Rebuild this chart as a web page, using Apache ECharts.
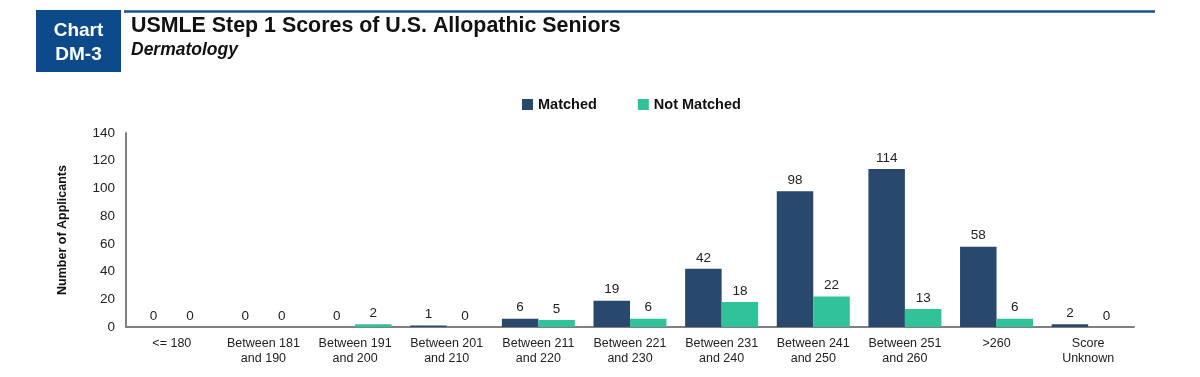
<!DOCTYPE html>
<html>
<head>
<meta charset="utf-8">
<script src="https://cdn.jsdelivr.net/npm/echarts@6/dist/echarts.min.js"></script>
<style>
  html, body { margin: 0; padding: 0; background: #fff; }
  #chart { width: 1200px; height: 377px; }
</style>
</head>
<body>
<div id="chart"></div>
<script>
const categories = ['<= 180', 'Between 181\nand 190', 'Between 191\nand 200', 'Between 201\nand 210',
  'Between 211\nand 220', 'Between 221\nand 230', 'Between 231\nand 240', 'Between 241\nand 250',
  'Between 251\nand 260', '>260', 'Score\nUnknown'];
const matched = [0, 0, 0, 1, 6, 19, 42, 98, 114, 58, 2];
const notMatched = [0, 0, 2, 0, 5, 6, 18, 22, 13, 6, 0];

const myChart = echarts.init(document.getElementById('chart'));

const barLabel = {
  show: true,
  position: 'top',
  distance: 4,
  color: '#222',
  fontFamily: 'Liberation Sans, Arial',
  fontSize: 13.5
};

const option = {
  animation: false,
  textStyle: { fontFamily: 'Liberation Sans, Arial' },
  title: {
    text: 'USMLE Step 1 Scores of U.S. Allopathic Seniors',
    subtext: 'Dermatology',
    left: 126,
    top: 11,
    itemGap: 4,
    textStyle: { fontSize: 21.4, fontWeight: 'bold', color: '#111', fontFamily: 'Liberation Sans, Arial' },
    subtextStyle: { fontSize: 17.5, fontWeight: 'bold', fontStyle: 'italic', color: '#111', fontFamily: 'Liberation Sans, Arial' }
  },
  graphic: [
    { type: 'rect', shape: { x: 36, y: 10, width: 85, height: 62 }, style: { fill: '#0d4a8a' } },
    { type: 'text', x: 78.5, y: 19, style: { text: 'Chart\nDM-3', fill: '#fff', fontSize: 19, fontWeight: 'bold',
        fontFamily: 'Liberation Sans, Arial', align: 'center', lineHeight: 24 } },
    { type: 'line', shape: { x1: 124, y1: 11.5, x2: 1155, y2: 11.5 }, style: { stroke: '#1a4f8f', lineWidth: 2.5 } }
  ],
  legend: {
    top: 92,
    left: 517,
    itemWidth: 11,
    itemHeight: 11,
    itemGap: 41,
    icon: 'rect',
    textStyle: { fontSize: 14.5, fontWeight: 'bold', color: '#111' },
    data: ['Matched', 'Not Matched']
  },
  grid: { left: 126, right: 66, top: 133, bottom: 50 },
  xAxis: {
    type: 'category',
    data: categories,
    axisLine: { lineStyle: { color: '#808080', width: 2 } },
    axisTick: { show: false },
    axisLabel: { interval: 0, color: '#222', fontSize: 12.5, lineHeight: 15, margin: 9 }
  },
  yAxis: {
    type: 'value',
    min: 0,
    max: 140,
    interval: 20,
    name: 'Number of Applicants',
    nameLocation: 'middle',
    nameGap: 57,
    nameTextStyle: { fontSize: 12.5, fontWeight: 'bold', color: '#111' },
    axisLine: { show: true, lineStyle: { color: '#808080', width: 2 } },
    axisTick: { show: false },
    splitLine: { show: false },
    axisLabel: { color: '#222', fontSize: 13.5, margin: 11 }
  },
  series: [
    {
      name: 'Matched',
      type: 'bar',
      data: matched,
      barWidth: 36.5,
      barGap: '0%',
      itemStyle: { color: '#29486e' },
      label: barLabel
    },
    {
      name: 'Not Matched',
      type: 'bar',
      data: notMatched,
      barWidth: 36.5,
      itemStyle: { color: '#31c29a' },
      label: barLabel
    }
  ]
};

myChart.setOption(option);
</script>
</body>
</html>
